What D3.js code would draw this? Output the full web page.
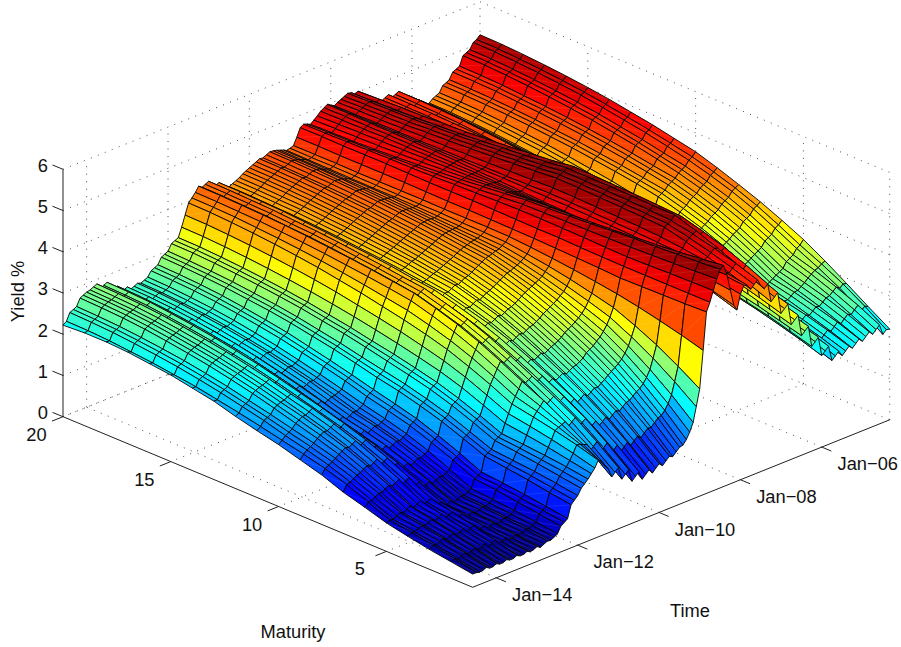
<!DOCTYPE html>
<html>
<head>
<meta charset="utf-8">
<script src="https://cdn.jsdelivr.net/npm/d3@7"></script>
<style>
  body { margin: 0; background: #fff; }
  text { font-family: "Liberation Sans", Arial, sans-serif; fill: #111; }
</style>
</head>
<body>
<svg id="chart" width="901" height="647"></svg>
<script>
// maturities in years, one value per column of yieldsBp
const maturities = [1,2,3,4,5,6,7,8,9,10,11,12,13,14,15,16,17,18,19,20]
const maturityTicks = [5,10,15,20]
const yieldTicks = [0,1,2,3,4,5,6]
const timeTicks = ['2006-01','2008-01','2010-01','2012-01','2014-01']
const timeLabels = ['Jan\u221206','Jan\u221208','Jan\u221210','Jan\u221212','Jan\u221214']
const firstMonth = '2004-05'
const lastMonth = '2014-08'

// yield in basis points, one row per month from May-04
const yieldsBp = [
[220,253,287,320,350,375,398,418,437,454,465,476,485,494,501,507,512,516,519,520],
[222,257,289,316,340,367,392,413,430,445,456,467,476,485,493,499,504,508,511,512],
[214,249,282,310,335,362,387,408,425,440,452,463,472,481,489,495,500,504,507,508],
[240,266,288,307,323,351,376,397,414,429,439,450,459,468,475,481,486,490,493,494],
[232,258,281,301,318,346,371,392,409,424,435,446,455,464,471,477,482,486,489,490],
[224,250,274,295,313,341,366,387,404,419,431,442,451,460,467,473,478,482,485,486],
[233,254,272,287,300,329,355,377,395,410,418,427,435,442,448,453,457,461,463,464],
[225,246,265,281,295,324,350,372,390,405,414,423,431,438,444,449,453,457,459,460],
[217,238,258,275,290,319,345,367,385,400,410,419,427,434,440,445,449,453,455,456],
[226,245,260,274,285,313,338,359,376,391,399,407,414,421,426,431,435,438,440,441],
[218,237,253,268,280,308,333,354,371,386,395,403,410,417,422,427,431,434,436,437],
[210,229,246,262,275,303,328,349,366,381,391,399,406,413,418,423,427,430,432,433],
[218,235,250,262,273,296,317,334,348,360,369,379,387,395,402,407,412,416,418,419],
[210,227,243,256,268,291,312,329,343,355,365,375,383,391,398,403,408,412,414,415],
[202,219,236,250,263,286,307,324,338,350,361,371,379,387,394,399,404,408,410,411],
[216,234,249,262,273,290,307,320,331,340,350,360,370,378,385,391,396,400,403,404],
[208,226,242,256,268,285,302,315,326,335,346,356,366,374,381,387,392,396,399,400],
[200,218,235,250,263,280,297,310,321,330,342,352,362,370,377,383,388,392,395,396],
[238,255,268,280,290,309,327,341,353,363,372,382,390,398,405,410,415,418,421,422],
[230,247,261,274,285,304,322,336,348,358,368,378,386,394,401,406,411,414,417,418],
[222,239,254,268,280,299,317,331,343,353,364,374,382,390,397,402,407,410,413,414],
[270,285,298,308,317,335,351,365,375,385,394,403,411,419,425,430,435,439,441,442],
[262,277,291,302,312,330,346,360,370,380,390,399,407,415,421,426,431,435,437,438],
[254,269,284,296,307,325,341,355,365,375,386,395,403,411,417,422,427,431,433,434],
[306,320,332,342,350,365,379,390,399,407,416,424,432,440,446,451,456,459,461,462],
[298,312,325,336,345,360,374,385,394,402,412,420,428,436,442,447,452,455,457,458],
[290,304,318,330,340,355,369,380,389,397,408,416,424,432,438,443,448,451,453,454],
[343,358,371,381,390,402,413,422,429,435,439,444,448,452,455,458,460,462,463,464],
[335,350,364,375,385,397,408,417,424,430,435,440,444,448,451,454,456,458,459,460],
[327,342,357,369,380,392,403,412,419,425,431,436,440,444,447,450,452,454,455,456],
[380,396,409,420,430,439,447,455,460,465,463,462,461,460,460,459,458,458,457,457],
[372,388,402,414,425,434,442,450,455,460,459,458,457,456,456,455,454,454,453,453],
[364,380,395,408,420,429,437,445,450,455,455,454,453,452,452,451,450,450,449,449],
[418,438,454,468,480,485,490,494,497,500,495,491,488,485,483,481,479,477,476,476],
[410,430,447,462,475,480,485,489,492,495,491,487,484,481,479,477,475,473,472,472],
[402,422,440,456,470,475,480,484,487,490,487,483,480,477,475,473,471,469,468,468],
[448,472,493,510,525,528,531,533,535,537,530,525,520,516,512,510,507,506,504,502],
[440,464,486,504,520,523,526,528,530,532,526,521,516,512,508,506,503,502,500,498],
[450,476,498,518,535,536,538,539,539,540,534,528,524,519,515,512,509,507,506,505],
[468,486,501,514,525,528,530,532,534,535,529,525,521,518,515,513,510,509,508,507],
[460,478,494,508,520,523,525,527,529,530,525,521,517,514,511,509,506,505,504,503],
[452,470,487,502,515,518,520,522,524,525,521,517,513,510,507,505,502,501,500,499],
[465,474,482,489,495,498,500,502,504,505,503,502,500,499,498,498,497,496,496,495],
[468,473,478,482,485,488,490,492,494,495,494,493,493,492,492,491,491,491,490,490],
[450,459,467,474,480,483,485,487,489,490,491,492,492,493,493,494,494,494,495,495],
[415,432,446,459,470,473,476,478,480,482,485,488,490,493,495,496,497,498,499,500],
[430,444,456,466,475,478,480,482,484,485,487,488,490,491,492,493,494,494,495,495],
[470,476,481,486,490,491,491,490,490,490,490,491,490,490,490,490,491,490,490,490],
[510,508,507,506,505,503,500,498,497,495,493,491,489,488,487,486,485,484,483,482],
[536,530,524,519,515,511,508,505,503,500,496,492,488,485,482,480,478,477,476,475],
[530,526,523,520,518,514,510,507,504,502,496,491,486,482,478,475,472,470,469,468],
[510,507,504,502,500,499,498,497,496,495,491,487,484,481,479,477,475,474,473,472],
[485,484,483,481,480,481,483,484,485,485,484,482,481,479,478,478,477,476,475,475],
[460,460,460,460,460,461,462,464,464,465,466,467,467,467,468,469,469,469,470,470],
[440,438,437,436,435,438,440,442,444,445,446,447,447,448,449,449,449,449,450,450],
[350,365,378,390,400,408,415,421,426,430,431,431,431,432,432,432,432,433,433,433],
[260,293,323,348,370,383,395,405,413,420,422,423,425,425,426,427,428,429,429,430],
[220,259,294,324,350,367,382,395,406,415,417,419,421,423,424,424,425,426,427,428],
[185,230,270,305,335,354,372,387,400,410,414,417,420,423,426,428,428,429,431,432],
[165,212,254,291,322,344,365,382,396,408,413,417,421,424,427,429,430,432,433,435],
[150,199,242,280,312,336,358,377,392,405,411,416,421,425,428,431,434,436,437,438],
[140,190,234,272,305,330,353,373,388,402,408,415,420,425,429,432,435,438,439,440],
[138,187,229,266,297,324,348,369,386,400,406,413,419,424,429,433,436,438,440,441],
[130,179,222,260,292,319,343,364,381,395,402,409,415,420,425,429,432,434,436,437],
[122,171,215,254,287,314,338,359,376,390,398,405,411,416,421,425,428,430,432,433],
[126,172,213,247,277,306,331,353,371,385,393,401,408,414,420,424,428,431,433,434],
[118,164,206,241,272,301,326,348,366,380,389,397,404,410,416,420,424,427,429,430],
[110,156,199,235,267,296,321,343,361,375,385,393,400,406,412,416,420,423,425,426],
[118,163,203,236,265,293,319,341,358,373,381,389,396,402,408,412,416,419,421,422],
[110,155,196,230,260,288,314,336,353,368,377,385,392,398,404,408,412,415,417,418],
[102,147,189,224,255,283,309,331,348,363,373,381,388,394,400,404,408,411,413,414],
[113,158,197,231,260,287,312,334,350,365,371,379,385,390,395,399,403,405,407,408],
[105,150,190,225,255,282,307,329,345,360,367,375,381,386,391,395,399,401,403,404],
[97,142,183,219,250,277,302,324,340,355,363,371,377,382,387,391,395,397,399,400],
[118,161,198,230,257,282,306,326,341,355,361,368,374,379,384,388,391,393,395,396],
[110,153,191,224,252,277,301,321,336,350,357,364,370,375,380,384,387,389,391,392],
[102,145,184,218,247,272,296,316,331,345,353,360,366,371,376,380,383,385,387,388],
[133,176,214,245,273,299,323,343,359,373,379,387,393,398,403,407,411,413,415,416],
[125,168,207,239,268,294,318,338,354,368,375,383,389,394,399,403,407,409,411,412],
[117,160,200,233,263,289,313,333,349,363,371,379,385,390,395,399,403,405,407,408],
[148,189,226,256,283,310,335,356,372,387,393,400,406,412,417,420,424,426,428,429],
[140,181,219,250,278,305,330,351,367,382,389,396,402,408,413,416,420,422,424,425],
[132,173,212,244,273,300,325,346,362,377,385,392,398,404,409,412,416,418,420,421],
[155,193,226,255,280,307,332,353,370,385,392,399,405,410,415,419,422,424,426,427],
[165,195,222,245,265,292,317,338,355,370,378,385,391,397,402,406,410,412,414,415],
[178,200,219,236,250,276,300,320,336,350,359,368,376,383,389,394,398,402,404,405],
[186,201,214,225,235,260,282,302,317,330,341,352,361,370,377,383,388,392,395,396],
[170,184,196,206,215,238,260,278,292,305,316,326,336,344,351,357,362,366,369,370],
[160,170,180,188,195,217,238,255,268,280,291,301,310,318,325,331,336,340,343,344],
[150,158,164,169,173,195,215,232,245,257,267,278,287,296,303,309,314,318,321,322],
[142,150,157,163,168,190,210,227,240,252,263,274,283,292,299,305,310,314,317,318],
[134,142,150,157,163,185,205,222,235,247,259,270,279,288,295,301,306,310,313,314],
[120,128,135,140,145,166,186,202,216,227,238,250,260,270,278,284,290,294,297,299],
[112,120,128,134,140,161,181,197,211,222,234,246,256,266,274,280,286,290,293,295],
[104,112,121,128,135,156,176,192,206,217,230,242,252,262,270,276,282,286,289,291],
[74,82,89,95,100,124,145,164,178,191,205,218,230,242,251,259,266,271,274,276],
[68,76,83,90,95,119,140,159,173,186,201,214,226,238,247,255,262,267,270,272],
[62,70,77,85,90,114,135,154,168,181,197,210,222,234,243,251,258,263,266,268],
[47,54,60,65,70,95,118,137,152,165,180,194,207,219,229,238,245,250,254,256],
[42,49,55,60,65,90,113,132,147,160,176,190,203,215,225,234,241,246,250,252],
[38,45,50,55,60,85,108,127,142,155,172,186,199,211,221,230,237,242,246,248],
[39,46,52,57,61,87,109,129,144,156,171,187,200,213,223,232,239,245,249,251],
[35,42,48,53,57,82,104,124,139,151,167,183,196,209,219,228,235,241,245,247],
[31,38,44,49,53,77,99,119,134,146,163,179,192,205,215,224,231,237,241,243],
[36,43,49,54,60,85,108,128,143,155,171,186,200,213,224,232,240,246,250,252],
[32,39,45,50,55,80,103,123,138,150,167,182,196,209,220,228,236,242,246,248],
[30,36,41,46,50,75,98,118,133,145,163,178,192,205,216,224,232,238,242,244],
[34,44,52,60,67,94,118,138,155,169,184,200,213,226,236,245,252,258,262,264],
[30,40,48,56,62,89,113,133,150,164,180,196,209,222,232,241,248,254,258,260],
[30,36,44,52,57,84,108,128,145,159,176,192,205,218,228,237,244,250,254,256],
[34,49,63,74,85,114,140,162,180,195,209,223,236,247,257,265,272,278,281,283],
[30,45,59,70,80,109,135,157,175,190,205,219,232,243,253,261,268,274,277,279],
[30,41,55,66,75,104,130,152,170,185,201,215,228,239,249,257,264,270,273,275],
[34,51,65,78,90,120,147,170,189,205,218,232,244,255,264,272,279,284,287,289],
[30,47,61,74,85,115,142,165,184,200,214,228,240,251,260,268,275,280,283,285],
[30,43,57,70,80,110,137,160,179,195,210,224,236,247,256,264,271,276,279,281],
[34,50,64,76,87,115,141,163,180,195,208,222,234,245,254,262,269,274,277,279],
[30,46,60,72,82,110,136,158,175,190,204,218,230,241,250,258,265,270,273,275],
[30,42,56,68,77,105,131,153,170,185,200,214,226,237,246,254,261,266,269,271],
[35,48,61,71,81,105,128,147,162,175,188,200,212,222,231,238,244,249,252,254],
[31,44,57,67,76,100,123,142,157,170,184,196,208,218,227,234,240,245,248,250],
[30,40,53,63,71,95,118,137,152,165,180,192,204,214,223,230,236,241,244,246],
[32,44,55,64,72,94,115,132,145,157,169,180,190,200,207,214,219,224,227,228],
[32,40,48,58,69,85,100,120,135,150,162,175,190,200,210,216,222,225,225,222]
]

let parseMonth = d3.utcParse('%Y-%m')
let months = d3.utcMonth.range(parseMonth(firstMonth), d3.utcMonth.offset(parseMonth(lastMonth), 1))

let svg = d3.select('#chart')

// oblique projection: a screen position is the sum of the three axis offsets
let timeX = d3.scaleUtc().domain([parseMonth(firstMonth), parseMonth(lastMonth)]).range([417, 0])
let timeY = d3.scaleUtc().domain([parseMonth(firstMonth), parseMonth(lastMonth)]).range([-167.5, 0])
let matX = d3.scaleLinear().domain([1, 20]).range([472.7, 63])
let matY = d3.scaleLinear().domain([1, 20]).range([587.3, 416.7])
let zY = d3.scaleLinear().domain([0, 6]).range([0, -247.4])

let project = (t, m, z) => [timeX(t) + matX(m), timeY(t) + matY(m) + zY(z)]

// jet colormap stretched over the data range
let clim = d3.extent(yieldsBp.flat())
let jetStops = [0, 1/8, 3/8, 5/8, 7/8, 1].map((f) => clim[0] + f * (clim[1] - clim[0]))
let jet = d3.scaleLinear()
  .domain(jetStops)
  .range(['#00008f', '#0000ff', '#00ffff', '#ffff00', '#ff0000', '#800000'])
  .clamp(true)

let line = d3.line()
let t0 = parseMonth(firstMonth)
let t1 = parseMonth(lastMonth)
let tickDates = timeTicks.map(parseMonth)

// dotted grid on floor and back walls
let grid = svg.append('g')
  .attr('fill', 'none')
  .attr('stroke', '#222')
  .attr('stroke-width', 0.8)
  .attr('stroke-dasharray', '1 6.5')

let gridLines = []
maturityTicks.forEach((m) => {
  gridLines.push([project(t0, m, 0), project(t1, m, 0)])
  gridLines.push([project(t0, m, 0), project(t0, m, 6)])
})
tickDates.forEach((t) => {
  gridLines.push([project(t, 1, 0), project(t, 20, 0)])
  gridLines.push([project(t, 20, 0), project(t, 20, 6)])
})
yieldTicks.forEach((z) => {
  gridLines.push([project(t1, 20, z), project(t0, 20, z)])
  gridLines.push([project(t0, 20, z), project(t0, 1, z)])
})
gridLines.push([project(t0, 1, 0), project(t0, 1, 6)])

grid.selectAll('path')
  .data(gridLines)
  .enter().append('path')
  .attr('d', line)

// axis lines
let axes = svg.append('g')
  .attr('stroke', '#222')
  .attr('stroke-width', 1)
  .attr('fill', 'none')

axes.append('path').attr('d', line([project(t1, 20, 6), project(t1, 20, 0), project(t1, 1, 0), project(t0, 1, 0)]))

yieldTicks.forEach((z) => {
  let p = project(t1, 20, z)
  axes.append('path').attr('d', line([p, [p[0] - 10.5, p[1] - 4.3]]))
  svg.append('text')
    .attr('x', p[0] - 15)
    .attr('y', p[1] - 4)
    .attr('dy', '0.35em')
    .attr('text-anchor', 'end')
    .attr('font-size', 18.3)
    .text(z)
})

maturityTicks.forEach((m) => {
  let p = project(t1, m, 0)
  axes.append('path').attr('d', line([p, [p[0] - 11, p[1] + 4.4]]))
  svg.append('text')
    .attr('x', p[0] - 26.5)
    .attr('y', p[1] + 17.7)
    .attr('dy', '0.35em')
    .attr('text-anchor', 'middle')
    .attr('font-size', 18.3)
    .text(m)
})

tickDates.forEach((t, i) => {
  let p = project(t, 1, 0)
  axes.append('path').attr('d', line([p, [p[0] + 9.6, p[1] + 4]]))
  svg.append('text')
    .attr('x', p[0] + 46)
    .attr('y', p[1] + 16.7)
    .attr('dy', '0.35em')
    .attr('text-anchor', 'middle')
    .attr('font-size', 18.3)
    .text(timeLabels[i])
})

// axis titles
svg.append('text')
  .attr('x', 293).attr('y', 638)
  .attr('text-anchor', 'middle').attr('font-size', 18.3)
  .text('Maturity')
svg.append('text')
  .attr('x', 690).attr('y', 617)
  .attr('text-anchor', 'middle').attr('font-size', 18.3)
  .text('Time')
svg.append('text')
  .attr('transform', 'translate(24,291.5) rotate(-90)')
  .attr('text-anchor', 'middle').attr('font-size', 18.3)
  .text('Yield %')

// surface cells, back to front so nearer ones paint over
let cells = []
for (let r = 0; r < months.length - 1; r++) {
  for (let j = maturities.length - 2; j >= 0; j--) {
    cells.push({r: r, j: j})
  }
}

let corner = (r, j) => project(months[r], maturities[j], yieldsBp[r][j] / 100)

let surface = svg.append('g')
let cell = surface.selectAll('g')
  .data(cells)
  .enter().append('g')

cell.append('path')
  .attr('d', (c) => line([corner(c.r, c.j), corner(c.r, c.j + 1), corner(c.r + 1, c.j + 1), corner(c.r + 1, c.j)]) + 'Z')
  .attr('fill', (c) => jet(yieldsBp[c.r][c.j]))
  .attr('stroke', '#000')
  .attr('stroke-width', 0.9)
  .attr('stroke-linejoin', 'round')

// faint seam across each cell
cell.append('path')
  .attr('d', (c) => line([corner(c.r, c.j), corner(c.r + 1, c.j + 1)]))
  .attr('stroke', '#fff')
  .attr('stroke-opacity', 0.18)
  .attr('stroke-width', 0.5)
</script>
</body>
</html>
